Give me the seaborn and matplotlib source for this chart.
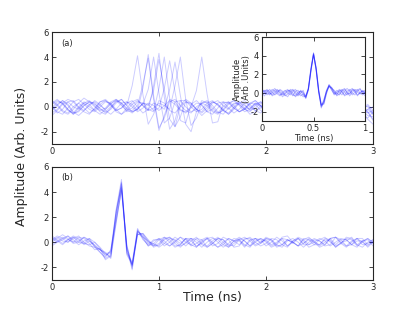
import numpy as np
import pandas as pd
import seaborn as sns
import matplotlib
matplotlib.use('Agg')
import matplotlib.pyplot as plt

# sample spacing of the traces (ns)
dt_main = 0.05
dt_inset = 0.025

# panel (a): single shots, pulse arrives at a random time
trace_a = [
    [0.2,0.5,0.3,-0.2,-0.6,-0.3,0.1,0.4,0.2,-0.1,
     -0.5,-0.2,0.3,0.6,0.1,1.7,4.1,1.0,-1.4,-0.6,
     0.5,0.3,-0.3,-0.5,0.0,0.4,0.2,-0.2,-0.7,-0.3,
     0.3,0.5,0.1,-0.2,0.2,0.4,-0.1,-0.6,-0.4,0.1,
     0.3,0.0,-0.4,-0.2,0.3,0.6,0.2,-0.3,-0.5,-0.1,
     0.2,0.4,-0.1,-0.6,-0.3,0.2,0.0,-0.4,-0.2,0.1,-0.5],
    [-0.5,-0.2,0.3,0.6,0.4,-0.1,-0.4,-0.6,-0.1,0.4,
     0.5,0.1,-0.3,-0.1,0.4,0.2,-0.3,1.5,4.2,0.9,
     -1.7,-0.9,0.4,0.6,0.1,-0.3,-0.5,0.0,0.3,0.1,
     -0.4,-0.6,-0.2,0.3,0.5,0.2,-0.2,-0.1,0.3,0.0,
     -0.5,-0.7,-0.2,0.2,0.4,0.1,-0.3,-0.5,0.0,0.3,
     0.1,-0.2,-0.6,-0.4,0.1,0.3,-0.1,-0.5,-0.7,-0.2,0.0],
    [0.4,0.1,-0.4,-0.6,-0.2,0.3,0.7,0.4,0.0,-0.3,
     -0.1,0.4,0.6,0.2,-0.4,-0.3,0.1,1.8,3.9,0.6,
     -1.9,-0.7,0.6,0.4,-0.2,-0.5,-0.1,0.3,0.2,-0.4,
     -0.6,-0.1,0.4,0.3,-0.1,-0.4,-0.2,0.2,0.5,0.1,
     -0.3,-0.1,0.4,0.2,-0.3,-0.6,-0.2,0.3,0.1,-0.3,
     -0.5,0.0,0.4,0.1,-0.4,-0.2,0.2,-0.1,-0.6,-0.9,-0.4],
    [-0.3,0.1,0.5,0.2,-0.4,-0.7,-0.3,0.2,0.4,0.1,
     -0.2,0.2,0.6,0.3,-0.2,-0.5,-0.1,0.2,1.4,4.0,
     1.1,-1.3,-0.9,0.4,0.5,0.0,-0.4,-0.2,0.3,0.5,
     0.1,-0.4,-0.6,-0.1,0.3,0.2,-0.2,-0.4,0.1,0.4,
     0.2,-0.2,-0.5,-0.2,0.3,0.4,0.0,-0.4,-0.3,0.2,
     0.3,-0.1,-0.5,-0.3,0.2,0.1,-0.4,-0.6,-0.1,0.2,-0.3],
    [0.1,-0.4,-0.6,-0.1,0.4,0.6,0.2,-0.2,-0.4,0.0,
     0.4,0.3,-0.2,-0.6,-0.3,0.2,0.5,0.1,-0.3,1.7,
     4.3,0.8,-1.8,-1.1,0.5,0.5,0.0,-0.4,-0.2,0.3,
     0.5,0.1,-0.3,-0.5,0.0,0.4,0.2,-0.3,-0.1,0.3,
     0.1,-0.5,-0.7,-0.2,0.3,0.5,0.1,-0.4,-0.2,0.2,
     0.0,-0.3,-0.6,-0.2,0.3,0.1,-0.4,-0.3,0.2,-0.4,-1.0],
    [-0.7,-0.3,0.2,0.4,0.0,-0.2,0.3,0.5,0.1,-0.4,
     -0.6,-0.1,0.5,0.3,-0.1,-0.4,-0.2,0.3,0.1,1.3,
     3.8,1.4,-1.0,-1.6,0.1,0.6,0.3,-0.2,-0.5,-0.1,
     0.4,0.2,-0.2,-0.6,-0.2,0.3,0.5,0.0,-0.3,-0.5,
     0.0,0.4,0.2,-0.3,-0.6,-0.1,0.3,0.2,-0.2,-0.4,
     0.1,0.5,0.1,-0.4,-0.3,0.2,0.3,-0.2,-0.5,-0.2,-0.6],
    [0.3,0.6,0.2,-0.3,-0.5,0.0,0.4,0.2,-0.3,-0.6,
     -0.2,0.3,0.5,0.1,-0.3,-0.1,0.4,0.3,-0.2,-0.4,
     1.5,4.0,0.7,-1.6,-0.8,0.4,0.3,-0.2,-0.4,0.1,
     0.4,0.2,-0.3,-0.6,-0.1,0.3,0.1,-0.2,0.2,0.4,
     0.0,-0.4,-0.2,0.3,0.5,0.0,-0.5,-0.3,0.1,-0.1,
     -0.5,-0.2,0.3,0.2,-0.3,-0.7,-0.2,0.2,0.0,-0.5,-0.3],
    [-0.2,0.2,0.5,0.1,-0.5,-0.4,0.1,0.4,0.3,-0.2,
     -0.4,0.0,0.4,0.6,0.1,-0.4,-0.2,0.3,0.2,-0.3,
     -0.1,1.5,3.7,1.2,-1.1,-1.3,0.2,0.5,0.1,-0.4,
     -0.2,0.3,0.4,-0.1,-0.5,-0.2,0.3,0.2,-0.3,-0.1,
     0.4,0.3,-0.2,-0.5,-0.1,0.3,0.0,-0.4,-0.6,-0.1,
     0.3,0.2,-0.3,-0.1,0.3,-0.2,-0.6,-0.4,0.1,0.0,-0.6],
    [0.5,0.2,-0.3,-0.5,0.0,0.3,-0.1,-0.5,-0.2,0.4,
     0.6,0.2,-0.3,-0.1,0.3,0.5,0.0,-0.5,-0.2,0.3,
     0.1,-0.2,1.4,3.6,0.9,-1.4,-2.0,-0.4,0.5,0.3,
     -0.3,-0.5,0.0,0.4,0.1,-0.4,-0.1,0.3,0.5,0.1,
     -0.3,-0.6,-0.1,0.3,0.1,-0.2,0.2,0.4,-0.2,-0.5,
     -0.1,0.3,0.1,-0.3,-0.6,-0.3,0.2,0.0,-0.5,-1.0,-1.4],
    [-0.1,0.4,0.3,-0.2,-0.6,-0.1,0.3,0.0,-0.3,0.2,
     0.5,0.2,-0.4,-0.6,-0.1,0.4,0.6,0.1,-0.3,-0.1,
     0.3,0.1,-0.2,1.7,4.0,0.6,-1.5,-0.9,0.3,0.4,
     -0.1,-0.5,-0.3,0.2,0.5,0.1,-0.4,-0.2,0.3,0.1,
     -0.4,-0.2,0.2,0.5,0.0,-0.4,-0.6,-0.1,0.3,0.0,
     -0.3,0.2,0.4,-0.1,-0.5,-0.2,0.1,-0.3,-0.6,-0.4,-1.1],
    [0.0,-0.5,-0.2,0.4,0.5,0.0,-0.3,0.1,0.5,0.2,
     -0.3,-0.6,-0.2,0.3,0.4,0.0,-0.4,-0.1,0.3,0.1,
     -0.3,0.1,0.5,0.2,-0.3,-0.4,0.0,1.3,4.0,1.0,
     -1.3,-1.2,0.3,0.4,-0.1,-0.4,-0.2,0.3,0.2,-0.3,
     -0.5,0.0,0.3,0.1,-0.4,-0.2,0.3,0.4,-0.1,-0.5,
     -0.2,0.2,0.0,-0.4,-0.6,-0.1,0.3,0.1,-0.3,-0.7,-0.8],
]

# panel (b): same shots after time alignment
trace_b = [
    [0.2,0.5,0.3,0.0,0.4,0.2,-0.2,0.1,-0.2,-0.6,
     -1.0,-0.9,2.2,4.6,-0.6,-1.9,0.9,0.5,-0.1,-0.3,
     0.2,0.4,0.0,-0.4,-0.2,0.3,0.1,-0.3,-0.1,0.3,
     0.4,0.0,-0.4,-0.1,0.3,0.2,-0.2,-0.4,0.1,0.3,
     0.1,-0.3,-0.1,0.4,0.5,0.0,-0.3,-0.1,0.2,0.0,
     -0.4,-0.2,0.3,0.4,0.0,-0.3,0.1,0.3,-0.2,-0.1,0.2],
    [0.0,0.3,0.6,0.3,-0.1,0.0,0.4,0.2,-0.4,-0.8,
     -1.3,-1.0,1.6,4.3,-0.2,-2.1,0.6,0.7,0.1,-0.4,
     -0.2,0.3,0.4,-0.1,-0.4,0.0,0.3,0.2,-0.2,-0.4,
     -0.1,0.3,0.2,-0.2,-0.3,0.2,0.4,0.1,-0.3,-0.1,
     0.3,0.1,-0.4,-0.2,0.2,0.0,-0.3,0.2,0.4,0.0,
     -0.2,0.2,0.1,-0.4,-0.1,0.3,0.2,-0.3,0.0,0.3,-0.1],
    [0.5,0.2,-0.1,0.2,0.5,0.3,-0.1,-0.2,0.0,-0.4,
     -0.9,-1.2,2.6,5.0,-0.9,-1.7,1.1,0.3,-0.3,0.1,
     0.3,-0.1,-0.3,0.1,0.4,0.2,-0.3,-0.1,0.2,0.4,
     0.0,-0.4,-0.2,0.3,0.1,-0.2,0.2,0.4,0.0,-0.3,
     -0.1,0.3,0.2,-0.2,-0.4,0.1,0.4,0.2,-0.2,0.0,
     0.3,0.1,-0.3,0.0,0.3,0.2,-0.2,-0.4,0.1,0.3,0.0],
    [-0.2,0.1,0.4,0.2,0.0,0.4,0.3,-0.1,-0.6,-0.5,
     -1.1,-0.7,2.5,4.4,-1.0,-1.8,0.7,0.4,0.1,-0.2,
     -0.3,0.2,0.4,0.1,-0.3,-0.1,0.3,0.0,-0.4,0.0,
     0.3,0.2,-0.2,-0.4,0.1,0.4,0.1,-0.3,0.0,0.3,
     0.0,-0.4,-0.2,0.3,0.2,-0.1,0.3,0.1,-0.4,-0.2,
     0.2,0.4,0.0,-0.3,-0.1,0.4,0.3,-0.2,-0.4,0.0,0.2],
    [0.3,0.0,0.2,0.5,0.2,-0.2,0.1,0.3,-0.3,-0.8,
     -1.2,-0.6,1.8,4.1,-0.3,-1.9,0.8,0.6,0.0,-0.1,
     -0.4,-0.1,0.3,0.2,-0.1,0.3,-0.2,-0.4,0.1,0.3,
     -0.1,-0.4,0.0,0.3,0.1,0.2,-0.3,0.2,0.3,-0.1,
     0.3,0.2,-0.3,-0.2,0.2,0.0,-0.3,0.3,0.2,-0.2,
     -0.2,0.3,0.2,-0.4,0.0,0.1,0.4,-0.2,0.1,0.2,-0.3],
    [0.4,0.1,-0.2,0.2,0.4,0.0,-0.1,0.3,0.0,-0.5,
     -1.4,-1.1,2.0,4.8,-0.5,-2.2,1.0,0.2,-0.2,0.2,
     0.2,-0.3,0.0,0.4,0.1,-0.3,0.1,0.4,-0.1,-0.3,
     0.1,0.4,0.0,-0.4,-0.1,0.3,0.1,-0.3,0.3,0.2,
     -0.3,0.0,0.4,0.1,-0.3,0.1,0.3,-0.2,-0.2,0.2,
     0.1,-0.2,0.3,0.4,-0.1,-0.4,0.0,0.3,0.0,-0.3,0.1],
    [0.1,0.4,0.1,0.0,0.3,0.5,0.0,-0.3,-0.4,-0.6,
     -0.9,-0.8,2.4,4.7,-0.8,-1.6,0.9,0.4,-0.3,-0.1,
     0.3,0.1,-0.3,0.0,0.4,0.0,-0.2,0.3,0.2,-0.4,
     -0.1,0.3,0.2,-0.3,0.1,0.1,-0.4,0.1,0.3,0.0,
     0.2,-0.2,0.0,0.3,-0.3,0.0,0.3,-0.1,0.3,0.1,
     -0.3,0.0,0.3,-0.2,0.2,0.2,-0.2,0.1,0.1,-0.4,0.0],
    [-0.3,0.0,0.3,0.5,0.0,0.1,0.4,0.1,-0.3,-0.6,
     -0.8,-1.3,1.5,4.2,-0.4,-1.8,0.6,0.7,0.2,-0.3,
     -0.1,0.4,0.2,-0.3,-0.2,0.3,0.3,-0.4,0.0,0.3,
     -0.3,-0.1,0.4,0.2,-0.4,-0.3,0.3,0.3,-0.2,0.0,
     0.4,0.2,-0.2,-0.4,0.1,0.3,0.0,-0.4,0.0,0.3,
     0.1,-0.3,-0.2,0.4,0.2,-0.3,-0.2,0.3,0.3,-0.2,0.0],
]

# inset: aligned pulses, 0 - 1 ns
trace_inset = [
    [0.1,0.3,0.2,-0.1,0.0,0.3,0.4,0.1,-0.2,0.0,
     0.3,0.2,-0.2,-0.3,0.1,0.2,-0.2,-0.4,0.4,2.5,
     4.2,2.6,0.2,-1.3,-0.9,0.1,0.8,0.5,0.0,-0.2,
     0.2,0.4,0.1,-0.2,0.0,0.3,0.4,0.1,-0.1,0.2,0.1],
    [-0.2,0.0,0.3,0.2,-0.3,-0.1,0.2,0.3,0.0,-0.3,
     -0.1,0.4,0.3,-0.1,-0.3,0.0,0.3,-0.5,0.6,2.7,
     4.3,2.4,0.0,-1.5,-1.0,0.3,0.9,0.4,-0.2,0.1,
     0.4,0.2,-0.3,-0.1,0.3,0.5,0.2,-0.2,0.0,0.3,-0.1],
    [0.3,0.1,-0.2,0.1,0.4,0.2,-0.1,-0.3,0.1,0.3,
     0.0,-0.2,0.2,0.4,0.0,-0.3,-0.1,-0.6,0.3,2.3,
     4.1,2.8,0.4,-1.2,-1.1,0.0,0.7,0.6,0.2,-0.3,
     -0.1,0.3,0.5,0.1,-0.3,0.1,0.3,0.4,0.0,-0.2,0.2],
    [0.0,-0.3,0.1,0.4,0.1,-0.2,0.0,0.4,0.2,-0.2,
     -0.4,0.1,0.4,0.1,-0.2,0.2,0.0,-0.3,0.5,2.6,
     4.2,2.5,0.1,-1.4,-0.7,0.2,0.8,0.3,-0.1,0.3,
     0.1,-0.2,0.2,0.5,0.2,-0.2,0.1,0.3,0.5,0.0,-0.3],
    [0.4,0.2,0.0,-0.2,0.2,0.5,0.1,-0.2,-0.1,0.2,
     0.4,0.0,-0.3,0.2,0.3,-0.1,-0.4,-0.3,0.4,2.4,
     4.3,2.7,0.3,-1.3,-1.2,-0.1,0.9,0.6,0.1,-0.1,
     0.3,0.1,-0.2,0.2,0.4,0.0,-0.2,0.2,0.4,0.1,0.0],
    [-0.1,0.2,0.4,0.0,-0.2,0.1,0.3,0.0,-0.4,-0.1,
     0.2,0.3,0.0,-0.4,-0.1,0.3,0.1,-0.5,0.4,2.5,
     4.1,2.6,0.2,-1.6,-0.8,0.2,0.7,0.5,0.3,0.0,
     -0.2,0.2,0.4,0.0,-0.1,0.4,0.2,-0.3,0.1,0.2,0.3],
]


def to_long(traces, dt):
    rows = []
    for k, v in enumerate(traces):
        t = np.arange(len(v)) * dt
        rows.append(pd.DataFrame({'time': t, 'amp': v, 'shot': k}))
    return pd.concat(rows, ignore_index=True)


df_a = to_long(trace_a, dt_main)
df_b = to_long(trace_b, dt_main)
df_in = to_long(trace_inset, dt_inset)

sns.set_style('ticks')
plt.rcParams['font.family'] = ['DejaVu Sans']
plt.rcParams['axes.unicode_minus'] = False
plt.rcParams['xtick.direction'] = 'in'
plt.rcParams['ytick.direction'] = 'in'
plt.rcParams['xtick.top'] = True
plt.rcParams['ytick.right'] = True
plt.rcParams['xtick.major.size'] = 3
plt.rcParams['ytick.major.size'] = 3
plt.rcParams['axes.linewidth'] = 0.8

fig = plt.figure(figsize=(4.15, 3.12), dpi=100)
ax_a = fig.add_axes([0.125, 0.538, 0.774, 0.359])
ax_b = fig.add_axes([0.125, 0.103, 0.774, 0.362])
ax_in = fig.add_axes([0.631, 0.612, 0.249, 0.269])

line_kw = dict(x='time', y='amp', units='shot', estimator=None,
               color='#0000ff', lw=0.7, legend=False)
sns.lineplot(data=df_a, ax=ax_a, alpha=0.2, **line_kw)
sns.lineplot(data=df_b, ax=ax_b, alpha=0.2, **line_kw)
sns.lineplot(data=df_in, ax=ax_in, alpha=0.25, **line_kw)

for ax, lab in [(ax_a, '(a)'), (ax_b, '(b)')]:
    ax.set_xlim(0, 3)
    ax.set_ylim(-3, 6)
    ax.set_xticks([0, 1, 2, 3])
    ax.set_yticks([-2, 0, 2, 4, 6])
    ax.tick_params(labelsize=6, pad=2, width=0.6)
    ax.set_xlabel('')
    ax.set_ylabel('')
    ax.text(0.03, 0.88, lab, transform=ax.transAxes, fontsize=6)

ax_in.set_xlim(0, 1)
ax_in.set_ylim(-3, 6)
ax_in.set_xticks([0, 0.5, 1])
ax_in.set_xticklabels(['0', '0.5', '1'])
ax_in.set_yticks([-2, 0, 2, 4, 6])
ax_in.tick_params(labelsize=6, pad=2, width=0.6)
ax_in.set_xlabel('Time (ns)', fontsize=6, labelpad=1)
ax_in.set_ylabel('Amplitude\n(Arb .Units)', fontsize=6, labelpad=0, linespacing=1.0)

fig.text(0.053, 0.5, 'Amplitude (Arb. Units)', rotation=90, va='center',
         ha='center', fontsize=9)
fig.text(0.512, 0.048, 'Time (ns)', va='center', ha='center', fontsize=9)

fig.savefig('out.png', dpi=100)
